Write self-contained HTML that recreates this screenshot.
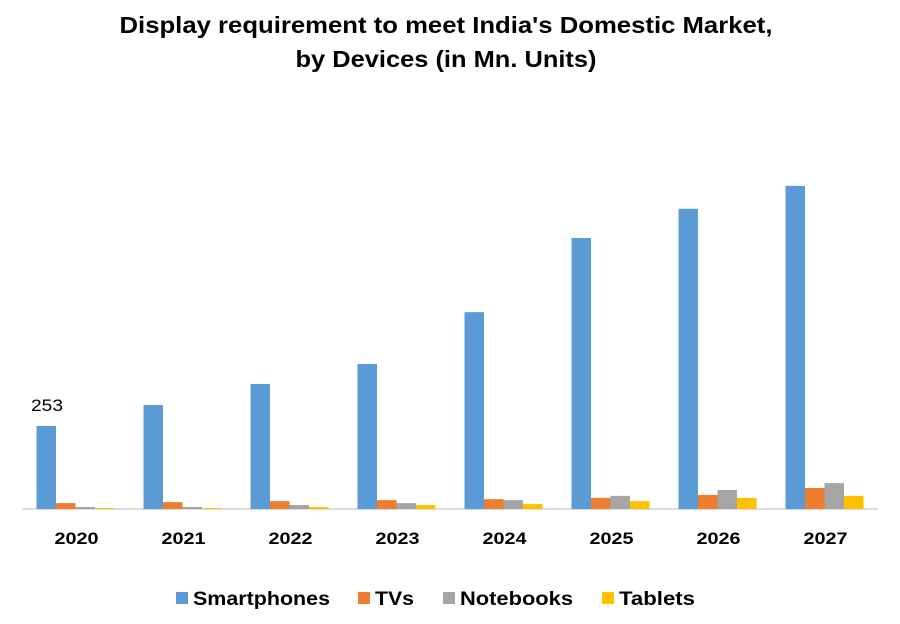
<!DOCTYPE html>
<html><head><meta charset="utf-8"><style>
body{margin:0;background:#fff;font-family:"Liberation Sans",sans-serif}
</style></head><body>
<svg id="chart" width="900" height="619" xmlns="http://www.w3.org/2000/svg">
<text x="446" y="33" text-anchor="middle" font-size="23" font-weight="bold" textLength="653" lengthAdjust="spacingAndGlyphs">Display requirement to meet India's Domestic Market,</text>
<text x="446" y="67" text-anchor="middle" font-size="23" font-weight="bold" textLength="301" lengthAdjust="spacingAndGlyphs">by Devices (in Mn. Units)</text>
<line x1="22" y1="509" x2="878" y2="509" stroke="#d0d0d0" stroke-width="1.5"/>
<g id="bars"></g>
<g id="legend"></g>
</svg>
<script>
const categories=["2020","2021","2022","2023","2024","2025","2026","2027"];
const smartphones=[253,317,381,442,600,826,915,985];
const tvs=[18,21,24,27,30,34,43,64];
const notebooks=[6,6,12,18,27,40,58,79];
const tablets=[3,3,6,12,15,24,34,40];
const seriesNames=["Smartphones","TVs","Notebooks","Tablets"];
const colors=["#5b9bd5","#ed7d31","#a5a5a5","#ffc000"];
const series=[smartphones,tvs,notebooks,tablets];
const NS="http://www.w3.org/2000/svg";
const x0=22,catW=107,base=509,scale=83/253,barW=19.5;
const y=v=>base-v*scale;
const g=document.getElementById('bars');
categories.forEach((c,i)=>{
  const cx=x0+catW*(i+0.5);
  series.forEach((s,j)=>{
    const r=document.createElementNS(NS,'rect');
    r.setAttribute('x',cx-2*barW+j*barW);
    r.setAttribute('y',y(s[i]));
    r.setAttribute('width',barW);
    r.setAttribute('height',base-y(s[i]));
    r.setAttribute('fill',colors[j]);
    
    
    g.appendChild(r);
  });
  const t=document.createElementNS(NS,'text');
  t.setAttribute('x',cx+1);t.setAttribute('y',544);
  t.setAttribute('text-anchor','middle');t.setAttribute('font-size','17');t.setAttribute('font-weight','bold');
  t.setAttribute('textLength','44');t.setAttribute('lengthAdjust','spacingAndGlyphs');
  t.textContent=c;
  
  
  g.appendChild(t);
});
const lbl=document.createElementNS(NS,'text');
lbl.setAttribute('x',47);lbl.setAttribute('y',y(smartphones[0])-15);
lbl.setAttribute('text-anchor','middle');lbl.setAttribute('font-size','17');
lbl.setAttribute('textLength','32');lbl.setAttribute('lengthAdjust','spacingAndGlyphs');
lbl.textContent=String(smartphones[0]);


g.appendChild(lbl);
const lg=document.getElementById('legend');
const lx=[176,358,443,602];
const lw=[137,39,113,76];
seriesNames.forEach((n,j)=>{
  const r=document.createElementNS(NS,'rect');
  r.setAttribute('x',lx[j]);r.setAttribute('y',592);r.setAttribute('width',12);r.setAttribute('height',12);r.setAttribute('fill',colors[j]);
  
  
  lg.appendChild(r);
  const t=document.createElementNS(NS,'text');
  t.setAttribute('x',lx[j]+17);t.setAttribute('y',605);t.setAttribute('font-size','19');t.setAttribute('font-weight','bold');
  t.setAttribute('textLength',lw[j]);t.setAttribute('lengthAdjust','spacingAndGlyphs');
  t.textContent=n;
  
  
  lg.appendChild(t);
});
</script>
</body></html>
